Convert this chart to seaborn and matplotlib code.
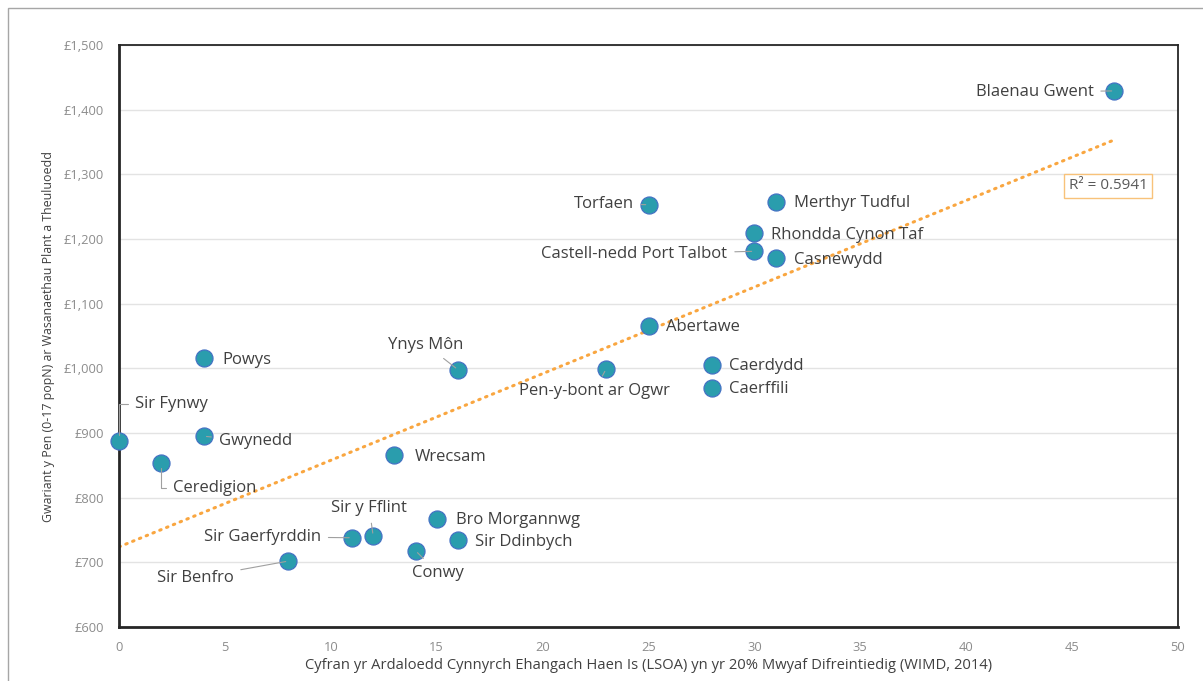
import matplotlib
matplotlib.use("Agg")
import matplotlib.pyplot as plt
import numpy as np
import pandas as pd
import seaborn as sns

# ---------------------------------------------
#  DATA
# ---------------------------------------------

AREAS = [
    "Blaenau Gwent", "Merthyr Tudful", "Torfaen", "Rhondda Cynon Taf",
    "Castell-nedd Port Talbot", "Casnewydd", "Abertawe", "Caerdydd",
    "Caerffili", "Pen-y-bont ar Ogwr", "Ynys Môn", "Powys", "Sir Fynwy",
    "Gwynedd", "Ceredigion", "Wrecsam", "Sir y Fflint", "Sir Gaerfyrddin",
    "Bro Morgannwg", "Sir Ddinbych", "Conwy", "Sir Benfro",
]
LSOA_PCT = [47, 31, 25, 30, 30, 31, 25, 28, 28, 23, 16, 4, 0, 4, 2, 13, 12, 11, 15, 16, 14, 8]
SPEND = [1429, 1257, 1253, 1209, 1181, 1171, 1065, 1005, 970, 999, 998, 1016,
         888, 895, 854, 866, 741, 738, 767, 735, 718, 702]

X_TICKS = list(range(0, 51, 5))
Y_TICKS = list(range(600, 1501, 100))
R2_TEXT = "R² = 0.5941"

X_LABEL = "Cyfran yr Ardaloedd Cynnyrch Ehangach Haen Is (LSOA) yn yr 20% Mwyaf Difreintiedig (WIMD, 2014)"
Y_LABEL = "Gwariant y Pen (0-17 popN) ar Wasanaethau Plant a Theuluoedd"

# label placement: (dx px, dy px, ha, leader line style)
LABEL_POS = {
    "Blaenau Gwent":            (-21, -1, "right", "line"),
    "Merthyr Tudful":           (18, -1, "left", None),
    "Torfaen":                  (-15, 1, "right", "line"),
    "Rhondda Cynon Taf":        (17, -2, "left", None),
    "Castell-nedd Port Talbot": (-27, -3, "right", "line"),
    "Casnewydd":                (18, -2, "left", None),
    "Abertawe":                 (18, -1, "left", None),
    "Caerdydd":                 (17, -1, "left", None),
    "Caerffili":                (17, -1, "left", None),
    "Pen-y-bont ar Ogwr":       (-12, -22, "center", "line"),
    "Ynys Môn":                 (-32, 25, "center", "line"),
    "Powys":                    (19, -2, "left", None),
    "Sir Fynwy":                (16, 37, "left", "elbow"),
    "Gwynedd":                  (15, -5, "left", "line"),
    "Ceredigion":               (12, -25, "left", "elbow"),
    "Wrecsam":                  (20, -2, "left", None),
    "Sir y Fflint":             (-4, 28, "center", "line"),
    "Sir Gaerfyrddin":          (-31, 1, "right", "line"),
    "Bro Morgannwg":            (19, -1, "left", None),
    "Sir Ddinbych":             (17, -2, "left", None),
    "Conwy":                    (22, -22, "center", "line"),
    "Sir Benfro":               (-55, -17, "right", "line"),
}

FONT = ["Open Sans", "DejaVu Sans"]
TEAL = "#2A9DAD"
EDGE = "#4472C4"
ORANGE = "#F9A640"
GRID = "#E3E3E3"
TICK_GREY = "#8C8C8C"
TEXT = "#404040"


def main():
    df = pd.DataFrame({"area": AREAS, "lsoa": LSOA_PCT, "spend": SPEND})

    sns.set_theme(style="white")
    plt.rcParams["font.family"] = FONT

    fig = plt.figure(figsize=(12.03, 6.81), dpi=100)
    ax = fig.add_axes([119 / 1203, 1 - 627 / 681, (1178 - 119) / 1203, (627 - 45) / 681])

    # outer chart border
    fig.patches.append(plt.Rectangle((8 / 1203, -0.05), 1.1, 1 - 8 / 681 + 0.05,
                                     transform=fig.transFigure, fill=False,
                                     edgecolor="#A6A6A6", linewidth=1.0))

    # gridlines
    ax.set_axisbelow(True)
    ax.yaxis.grid(True, color=GRID, linewidth=1.0)
    ax.xaxis.grid(False)

    # trendline
    sns.regplot(data=df, x="lsoa", y="spend", ax=ax, scatter=False, ci=None,
                truncate=True,
                line_kws=dict(color=ORANGE, linewidth=2.2, linestyle=(0, (0.5, 1.9)),
                              dash_capstyle="round", zorder=2))

    sns.scatterplot(data=df, x="lsoa", y="spend", ax=ax, s=150, color=TEAL,
                    edgecolor=EDGE, linewidth=0.9, zorder=4, clip_on=False)

    for name, x, y in zip(AREAS, LSOA_PCT, SPEND):
        dx, dy, ha, leader = LABEL_POS[name]
        arrow = None
        if leader == "line":
            arrow = dict(arrowstyle="-", color="#A0A0A0", lw=0.8, shrinkA=3, shrinkB=2)
        elif leader == "elbow":
            arrow = dict(arrowstyle="-", color="#A0A0A0", lw=0.8, shrinkA=3, shrinkB=4,
                         connectionstyle="angle,angleA=0,angleB=90,rad=0")
        ax.annotate(name, (x, y), xytext=(dx, dy), textcoords="offset pixels",
                    ha=ha, va="center", fontsize=12, color=TEXT,
                    arrowprops=arrow, zorder=5)

    ax.text(0.934, 0.758, R2_TEXT, transform=ax.transAxes, ha="center", va="center",
            fontsize=11, color="#595959",
            bbox=dict(boxstyle="square,pad=0.3", facecolor="white", edgecolor="#F8C27A",
                      linewidth=1.0))

    ax.set_xlim(0, 50)
    ax.set_ylim(600, 1500)
    ax.set_xticks(X_TICKS)
    ax.set_yticks(Y_TICKS)
    ax.set_yticklabels([f"£{v:,}" for v in Y_TICKS])
    ax.tick_params(axis="both", length=0, labelsize=9.3, labelcolor=TICK_GREY)
    ax.tick_params(axis="y", pad=11)
    ax.tick_params(axis="x", pad=10)

    ax.set_xlabel(X_LABEL, fontsize=10.6, color=TEXT, labelpad=3)
    ax.set_ylabel(Y_LABEL, fontsize=8.9, color=TEXT, labelpad=6)

    for side in ["left", "bottom"]:
        ax.spines[side].set_color("#262626")
        ax.spines[side].set_linewidth(2.0)
    for side in ["top", "right"]:
        ax.spines[side].set_color("#262626")
        ax.spines[side].set_linewidth(1.3)

    fig.savefig("out.png", dpi=100)
    plt.close(fig)


if __name__ == "__main__":
    main()
